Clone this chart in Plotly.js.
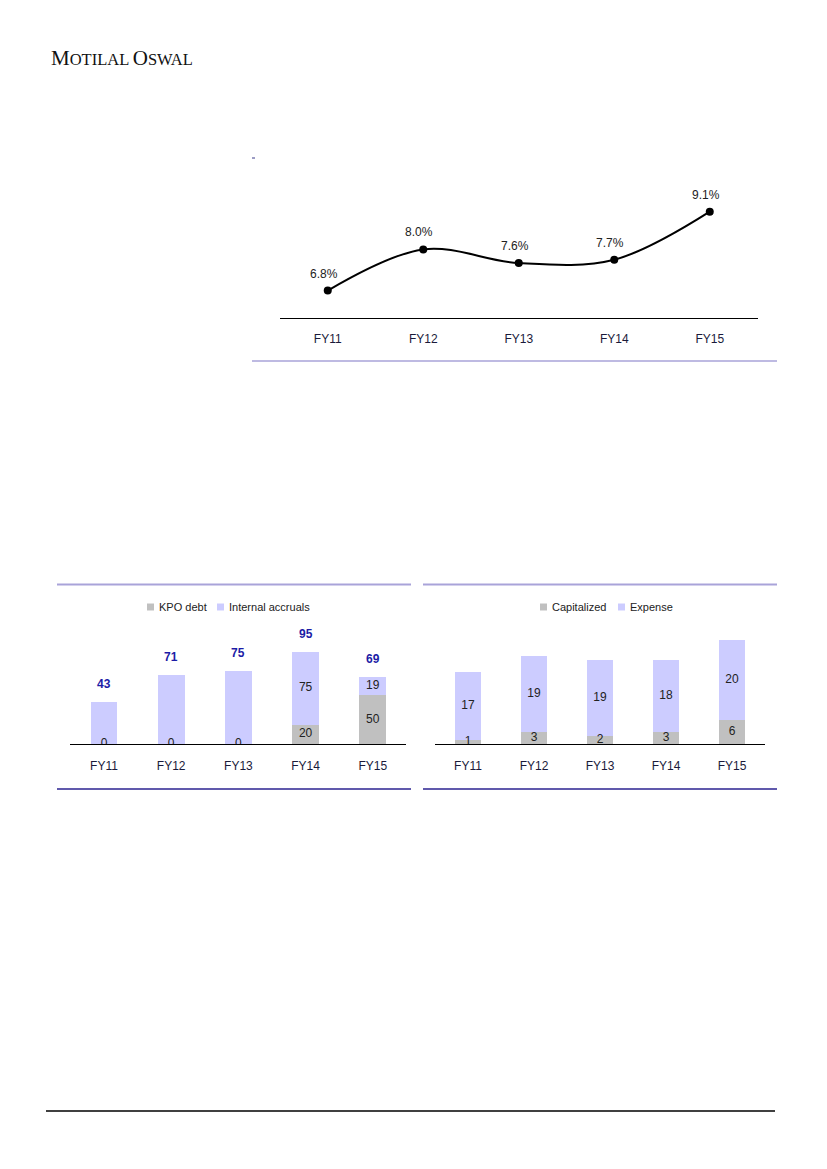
<!DOCTYPE html>
<html>
<head>
<meta charset="utf-8">
<script src="https://cdn.plot.ly/plotly-3.0.1.min.js"></script>
<style>
html,body{margin:0;padding:0;background:#fff;}
#chart{width:827px;height:1169px;}
</style>
</head>
<body>
<div id="chart"></div>
<script>
// ---- data ----
var years = ["FY11", "FY12", "FY13", "FY14", "FY15"];
var marginPct = [6.8, 8.0, 7.6, 7.7, 9.1];
var kpoDebt = [0, 0, 0, 20, 50];
var internalAccruals = [43, 71, 75, 75, 19];
var capitalized = [1, 3, 2, 3, 6];
var expense = [17, 19, 19, 18, 20];
var fundingSeries = ["KPO debt", "Internal accruals"];
var rndSeries = ["Capitalized", "Expense"];

// ---- helpers ----
var W = 827, H = 1169;
function fx(p){ return p / W; }
function fy(p){ return 1 - p / H; }

var FONT = "Liberation Sans, Arial, sans-serif";
var LAV = "#ccccff", GRAY = "#c0c0c0";
var TOPLINE = "#a9a3d9", BOTLINE = "#2b2290";

var kpoTotal = kpoDebt.map(function(v,i){ return v + internalAccruals[i]; });

var traces = [];

// Chart 1: line
traces.push({
  type: "scatter", mode: "lines+markers",
  x: years, y: marginPct, xaxis: "x", yaxis: "y",
  line: {color: "#000", width: 2, shape: "spline", smoothing: 1},
  marker: {color: "#000", size: 8},
  showlegend: false, hoverinfo: "skip"
});

// Chart 2: stacked bars
traces.push({
  type: "bar", name: fundingSeries[0], x: years, y: kpoDebt, xaxis: "x2", yaxis: "y2",
  marker: {color: GRAY}, width: 0.4, hoverinfo: "skip"
});
traces.push({
  type: "bar", name: fundingSeries[1], x: years, y: internalAccruals, xaxis: "x2", yaxis: "y2",
  marker: {color: LAV}, width: 0.4, hoverinfo: "skip"
});
// segment labels chart 2
traces.push({
  type: "scatter", mode: "text", x: years, y: kpoDebt.map(function(v){ return v/2; }),
  text: kpoDebt.map(String), xaxis: "x2", yaxis: "y2", textposition: "middle center",
  textfont: {family: FONT, size: 12, color: "#222"}, hoverinfo: "skip"
});
traces.push({
  type: "scatter", mode: "text", x: years,
  y: internalAccruals.map(function(v,i){ return kpoDebt[i] + v/2; }),
  text: internalAccruals.map(function(v,i){ return kpoDebt[i] > 0 ? String(v) : ""; }),
  xaxis: "x2", yaxis: "y2", textposition: "middle center",
  textfont: {family: FONT, size: 12, color: "#222"}, hoverinfo: "skip"
});

// Chart 3: stacked bars
traces.push({
  type: "bar", name: rndSeries[0], x: years, y: capitalized, xaxis: "x3", yaxis: "y3",
  marker: {color: GRAY}, width: 0.4, hoverinfo: "skip"
});
traces.push({
  type: "bar", name: rndSeries[1], x: years, y: expense, xaxis: "x3", yaxis: "y3",
  marker: {color: LAV}, width: 0.4, hoverinfo: "skip"
});
traces.push({
  type: "scatter", mode: "text", x: years, y: capitalized.map(function(v){ return v/2; }),
  text: capitalized.map(String), xaxis: "x3", yaxis: "y3", textposition: "middle center",
  textfont: {family: FONT, size: 12, color: "#222"}, hoverinfo: "skip"
});
traces.push({
  type: "scatter", mode: "text", x: years,
  y: expense.map(function(v,i){ return capitalized[i] + v/2; }),
  text: expense.map(String), xaxis: "x3", yaxis: "y3", textposition: "middle center",
  textfont: {family: FONT, size: 12, color: "#222"}, hoverinfo: "skip"
});

// ---- annotations ----
var annotations = [];
annotations.push({
  xref: "paper", yref: "paper", x: fx(49), y: fy(58), xanchor: "left", yanchor: "middle",
  showarrow: false,
  text: '<span style="font-size:21px">M</span>OTILAL <span style="font-size:21px">O</span>SWAL',
  font: {family: "Liberation Serif, Times New Roman, serif", size: 16.5, color: "#111"}
});
marginPct.forEach(function(v,i){
  annotations.push({
    xref: "x", yref: "y", x: years[i], y: v, showarrow: false,
    text: v.toFixed(1) + "%", xshift: -4, yshift: 17,
    font: {family: FONT, size: 12, color: "#222"}
  });
});
kpoTotal.forEach(function(v,i){
  annotations.push({
    xref: "x2", yref: "y2", x: years[i], y: v, showarrow: false,
    text: "<b>" + v + "</b>", yshift: 18,
    font: {family: FONT, size: 12, color: "#1c1ca6"}
  });
});

// ---- shapes ----
function hline(x0, x1, y, color, w){
  return {type: "line", xref: "paper", yref: "paper", x0: fx(x0), x1: fx(x1), y0: fy(y), y1: fy(y),
          line: {color: color, width: w}};
}
var shapes = [
  hline(252, 255, 158, "#3a3a8a", 1),
  hline(252, 777, 361, TOPLINE, 1.5),
  hline(57, 411, 584.5, TOPLINE, 2),
  hline(57, 411, 789, BOTLINE, 1.5),
  hline(423, 777, 584.5, TOPLINE, 2),
  hline(423, 777, 789, BOTLINE, 1.5),
  hline(46, 775, 1111, "#000", 1.5)
];

// ---- legends (small square swatches, Excel-style) ----
function legendItem(sx, cy, color, label){
  shapes.push({type: "rect", xref: "paper", yref: "paper",
    x0: fx(sx), x1: fx(sx + 7), y0: fy(cy + 3.5), y1: fy(cy - 3.5),
    fillcolor: color, line: {width: 0}});
  annotations.push({xref: "paper", yref: "paper", x: fx(sx + 9.5), y: fy(cy),
    xanchor: "left", yanchor: "middle", showarrow: false, text: label,
    font: {family: FONT, size: 11, color: "#222"}});
}
legendItem(147, 607, GRAY, fundingSeries[0]);
legendItem(217, 607, LAV, fundingSeries[1]);
legendItem(540, 607, GRAY, rndSeries[0]);
legendItem(618, 607, LAV, rndSeries[1]);

function xax(d0, d1, anchor, standoff){
  return {
    domain: [fx(d0), fx(d1)], anchor: anchor, type: "category", range: [-0.5, 4.5],
    showline: true, linecolor: "#000", linewidth: 1, showgrid: false, zeroline: false,
    ticks: "", ticklabelstandoff: standoff, fixedrange: true,
    tickfont: {family: FONT, size: 12, color: "#1a1a3a"}
  };
}
function yax(b, t, r, anchor){
  return {
    domain: [fy(b), fy(t)], anchor: anchor, range: r, visible: false, fixedrange: true
  };
}

var layout = {
  width: W, height: H, margin: {l: 0, r: 0, t: 0, b: 0},
  paper_bgcolor: "#fff", plot_bgcolor: "rgba(0,0,0,0)",
  barmode: "stack", showlegend: false,
  xaxis: xax(280, 757.5, "y", 10),
  yaxis: yax(318, 180.8, [6, 10], "x"),
  xaxis2: xax(70.4, 406.4, "y2", 11),
  yaxis2: yax(744, 630, [0, 114 / 0.973], "x2"),
  xaxis3: xax(435, 765, "y3", 11),
  yaxis3: yax(744, 630, [0, 28.5], "x3"),
  annotations: annotations,
  shapes: shapes
};

Plotly.newPlot("chart", traces, layout, {displayModeBar: false, staticPlot: true});
</script>
</body>
</html>
